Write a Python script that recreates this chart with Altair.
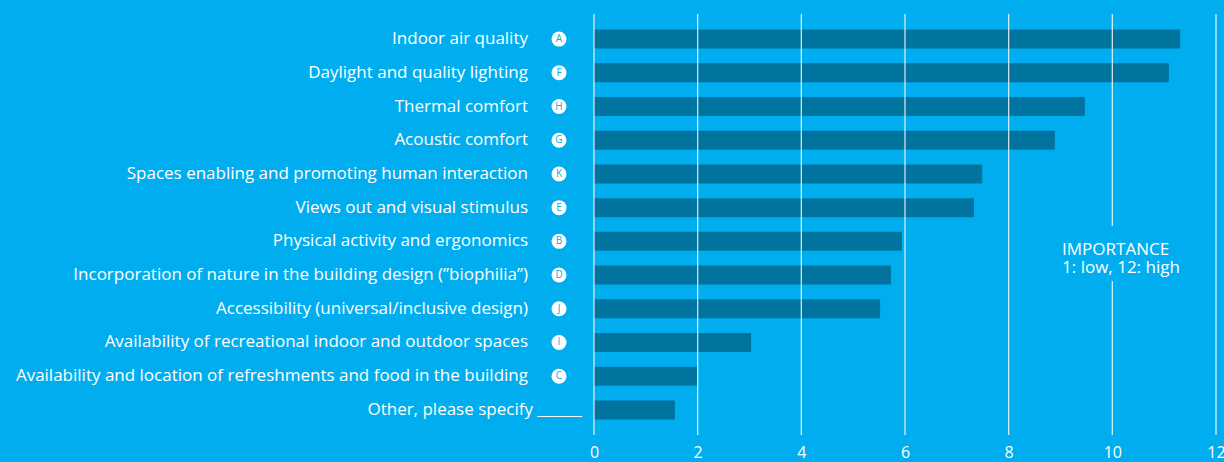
import altair as alt
import pandas as pd
import jinja2

categories = [
    "Indoor air quality",
    "Daylight and quality lighting",
    "Thermal comfort",
    "Acoustic comfort",
    "Spaces enabling and promoting human interaction",
    "Views out and visual stimulus",
    "Physical activity and ergonomics",
    "Incorporation of nature in the building design (\u201dbiophilia\u201d)",
    "Accessibility (universal/inclusive design)",
    "Availability of recreational indoor and outdoor spaces",
    "Availability and location of refreshments and food in the building",
    "Other, please specify ______",
]
letters = ["A", "F", "H", "G", "K", "E", "B", "D", "J", "I", "C", ""]
values = [11.31, 11.09, 9.47, 8.89, 7.49, 7.33, 5.94, 5.73, 5.52, 3.03, 1.99, 1.56]
grid_ticks = [0, 2, 4, 6, 8, 10, 12]

BG = "#00AEEF"
BAR = "#00739E"
FONT = "Open Sans"
FS = 17
W, H = 622, 421

df = pd.DataFrame({"category": categories, "letter": letters, "value": values})
df_letters = df[df["letter"] != ""]
df_other = df[df["letter"] == ""]
df_grid = pd.DataFrame({"x": grid_ticks})

xscale = alt.Scale(domain=[0, 12], nice=False, zero=True)
yscale = alt.Scale(paddingInner=0.436, paddingOuter=0.463)
ysort = categories
Y = alt.Y("category:N", sort=ysort, scale=yscale)

bars = alt.Chart(df).mark_bar(color=BAR).encode(
    x=alt.X("value:Q", scale=xscale,
            axis=alt.Axis(values=grid_ticks, grid=False, ticks=False, domain=False,
                          labelColor="white", labelFontSize=16, labelFont=FONT,
                          labelFlush=False, labelPadding=9, title=None)),
    y=alt.Y("category:N", sort=ysort, scale=yscale, axis=None),
)

grid = alt.Chart(df_grid).mark_rule(color="white", opacity=0.8, strokeWidth=1.3).encode(
    x=alt.X("x:Q", scale=xscale),
    y=alt.value(0),
    y2=alt.value(H),
)

mask = alt.Chart(pd.DataFrame({"a": [9.9], "b": [10.1]})).mark_rect(color=BG).encode(
    x=alt.X("a:Q", scale=xscale),
    x2="b:Q",
    y=alt.value(212),
    y2=alt.value(267),
)

note = alt.Chart(pd.DataFrame({"t": [["IMPORTANCE", "1: low, 12: high"]], "x": [9.03]})).mark_text(
    align="left", baseline="middle", color="white", fontSize=FS, font=FONT, lineHeight=18
).encode(
    x=alt.X("x:Q", scale=xscale),
    y=alt.value(236),
    text="t",
)

labels = alt.Chart(df_letters).mark_text(
    align="right", baseline="middle", color="white", fontSize=FS, font=FONT
).encode(x=alt.value(-66), y=Y, text="category:N")

other_label = alt.Chart(df_other).mark_text(
    align="right", baseline="middle", color="white", fontSize=FS, font=FONT
).encode(x=alt.value(-12), y=Y, text="category:N")

circles = alt.Chart(df_letters).mark_point(filled=True, shape="circle", size=225,
                                           color="white", opacity=1).encode(
    x=alt.value(-35), y=Y,
)

letter_text = alt.Chart(df_letters).mark_text(
    color=BG, fontSize=10, font=FONT, align="center", baseline="middle"
).encode(x=alt.value(-35), y=Y, text="letter:N")

chart = alt.layer(bars, grid, mask, note, labels, other_label, circles, letter_text).properties(
    width=W, height=H,
    autosize=alt.AutoSizeParams(type="none"),
    padding={"left": 594, "top": 14, "right": 8, "bottom": 27},
    background=BG,
).configure_view(stroke=None)

TEMPLATE = jinja2.Template("""<!DOCTYPE html>
<html>
<head>
<style>html, body { background: #00AEEF; overflow: hidden; margin: 0; padding: 0; }</style>
<script type="text/javascript" src="{{ base_url }}/vega@{{ vega_version }}"></script>
<script type="text/javascript" src="{{ base_url }}/vega-lite@{{ vegalite_version }}"></script>
<script type="text/javascript" src="{{ base_url }}/vega-embed@{{ vegaembed_version }}"></script>
</head>
<body>
<div id="{{ output_div }}"></div>
<script type="text/javascript">
  (function(vegaEmbed) {
    var spec = {{ spec }};
    var embedOpt = {{ embed_options }};
    vegaEmbed("#{{ output_div }}", spec, embedOpt).catch(console.error);
  })(vegaEmbed);
</script>
</body>
</html>
""")

chart.save("out.html", embed_options={"renderer": "svg", "actions": False}, template=TEMPLATE)
